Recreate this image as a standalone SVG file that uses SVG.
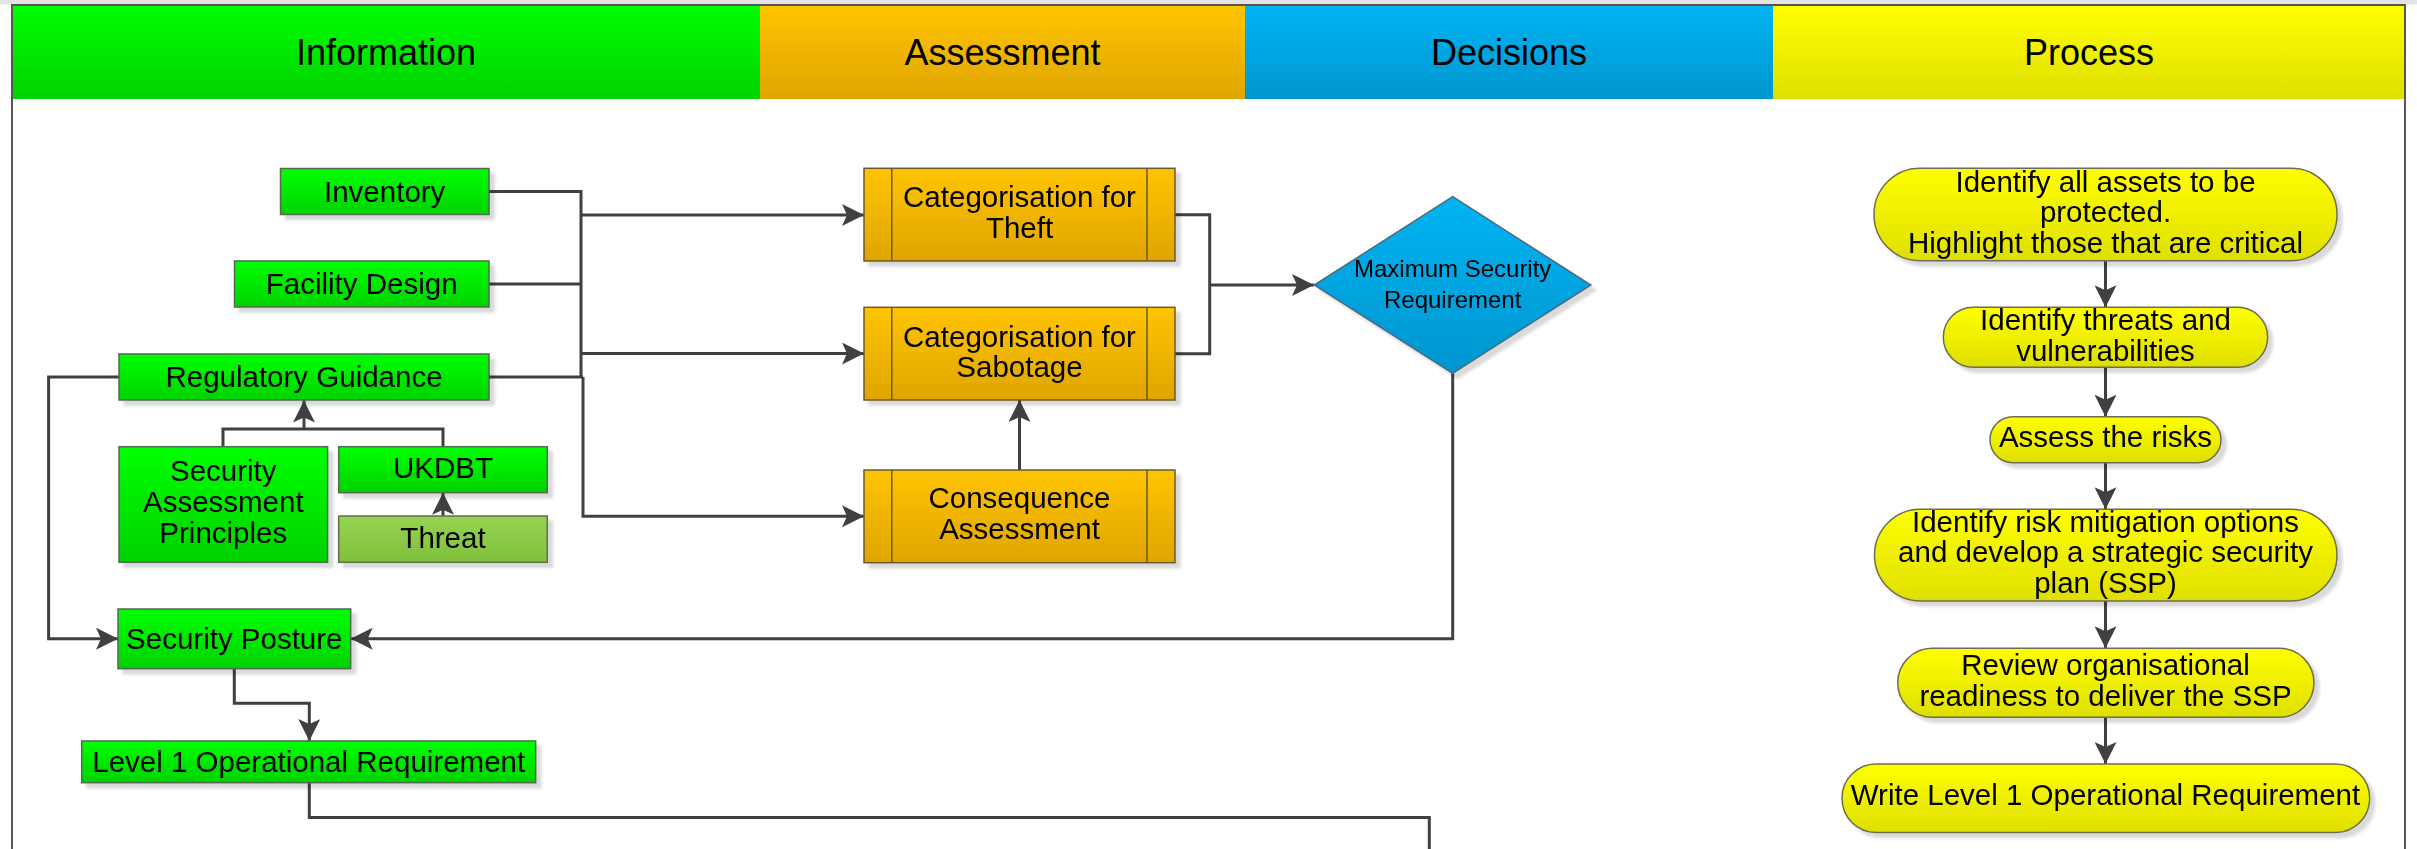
<svg xmlns="http://www.w3.org/2000/svg" width="2417" height="849" viewBox="0 0 2417 849">
<defs>
<linearGradient id="gGreen" x1="0" y1="0" x2="0" y2="1"><stop offset="0" stop-color="#00ff00"/><stop offset="1" stop-color="#00d200"/></linearGradient>
<linearGradient id="gThreat" x1="0" y1="0" x2="0" y2="1"><stop offset="0" stop-color="#96d452"/><stop offset="1" stop-color="#7fc03c"/></linearGradient>
<linearGradient id="gOrange" x1="0" y1="0" x2="0" y2="1"><stop offset="0" stop-color="#ffc400"/><stop offset="1" stop-color="#dfa500"/></linearGradient>
<linearGradient id="gBlue" x1="0" y1="0" x2="0" y2="1"><stop offset="0" stop-color="#00b4f2"/><stop offset="1" stop-color="#0096cf"/></linearGradient>
<linearGradient id="gYellow" x1="0" y1="0" x2="0" y2="1"><stop offset="0" stop-color="#ffff00"/><stop offset="1" stop-color="#dfdf00"/></linearGradient>
<filter id="sh" x="-10%" y="-10%" width="130%" height="140%">
<feGaussianBlur in="SourceAlpha" stdDeviation="1.5"/>
<feOffset dx="5" dy="5" result="o"/>
<feComponentTransfer><feFuncA type="linear" slope="0.15"/></feComponentTransfer>
<feMerge><feMergeNode/><feMergeNode in="SourceGraphic"/></feMerge>
</filter>
<marker id="arr" viewBox="0 0 22 22" refX="22" refY="11" markerWidth="22" markerHeight="22" markerUnits="userSpaceOnUse" orient="auto">
<path d="M0,0 L22,11 L0,22 L5,11 Z" fill="#404040"/>
</marker>
</defs>
<style>
text{font-family:"Liberation Sans",Arial,sans-serif;fill:#000;text-anchor:middle}
.hd{font-size:36px}
.t{font-size:29.5px}
.dt{font-size:24px}
.gn{fill:url(#gGreen);stroke:#4f6b4f;stroke-width:1.5}
.th{fill:url(#gThreat);stroke:#5f6f4f;stroke-width:1.5}
.or{fill:url(#gOrange);stroke:#6b5a2a;stroke-width:1.5}
.il{stroke:#6b5a2a;stroke-width:1.5;fill:none}
.dm{fill:url(#gBlue);stroke:#4a6a80;stroke-width:1.5}
.pr{fill:url(#gYellow);stroke:#6d6d50;stroke-width:1.5}
.c{fill:none;stroke:#404040;stroke-width:3;stroke-linejoin:miter}
.ca{fill:none;stroke:#404040;stroke-width:3;stroke-linejoin:miter;marker-end:url(#arr)}
</style>
<rect x="0" y="0" width="2417" height="849" fill="#ffffff"/>
<rect x="0" y="0" width="2417" height="4.5" fill="#e4e4e4"/>
<g id="pool">
<rect x="12" y="5" width="2393" height="860" fill="none" stroke="#555555" stroke-width="2"/>
</g>
<g id="header">
<rect x="13" y="6" width="747" height="93" fill="url(#gGreen)"/>
<rect x="760" y="6" width="485" height="93" fill="url(#gOrange)"/>
<rect x="1245" y="6" width="528" height="93" fill="url(#gBlue)"/>
<rect x="1773" y="6" width="631" height="93" fill="url(#gYellow)"/>
<text class="hd" x="386" y="65">Information</text>
<text class="hd" x="1002.5" y="65">Assessment</text>
<text class="hd" x="1509" y="65">Decisions</text>
<text class="hd" x="2089" y="65">Process</text>
</g>
<g id="connectors">
<path class="c" d="M489,191.5 H581 V377"/>
<path class="c" d="M489,284 H581"/>
<path class="c" d="M489,377 H583"/>
<path class="ca" d="M581,215 H864"/>
<path class="ca" d="M581,353.5 H864"/>
<path class="ca" d="M583,377 V516.3 H864"/>
<path class="c" d="M223,446.7 V429 H443 V446.7"/>
<path class="ca" d="M304,429 V400.5"/>
<path class="ca" d="M443,516 V492.7"/>
<path class="ca" d="M119,377 H48.6 V638.7 H118"/>
<path class="c" d="M1175,214.7 H1209.7 V353.7 H1175"/>
<path class="ca" d="M1209.7,285 H1314"/>
<path class="ca" d="M1019.5,470 V400"/>
<path class="ca" d="M1452.7,373.3 V638.7 H350.7"/>
<path class="ca" d="M234.3,668.7 V703.3 H309.3 V741"/>
<path class="c" d="M309.3,782.7 V817.5 H1429.3 V852"/>
<path class="ca" d="M2105.5,260.7 V307.3"/>
<path class="ca" d="M2105.5,367.3 V416.7"/>
<path class="ca" d="M2105.5,462.7 V509.3"/>
<path class="ca" d="M2105.5,601 V648.3"/>
<path class="ca" d="M2105.5,717.3 V764"/>
</g>
<g id="inventory" filter="url(#sh)">
<rect class="gn" x="280.5" y="168.5" width="208.5" height="46"/>
<text class="t" x="384.7" y="201.5">Inventory</text>
</g>
<g id="facility-design" filter="url(#sh)">
<rect class="gn" x="234.5" y="261" width="254.5" height="46"/>
<text class="t" x="361.7" y="294">Facility Design</text>
</g>
<g id="regulatory-guidance" filter="url(#sh)">
<rect class="gn" x="119" y="354" width="370" height="46"/>
<text class="t" x="304" y="387">Regulatory Guidance</text>
</g>
<g id="security-assessment-principles" filter="url(#sh)">
<rect class="gn" x="119" y="446.7" width="208.6" height="115.6"/>
<text class="t" x="223.3" y="481">Security</text>
<text class="t" x="223.3" y="512">Assessment</text>
<text class="t" x="223.3" y="543">Principles</text>
</g>
<g id="ukdbt" filter="url(#sh)">
<rect class="gn" x="338.7" y="446.7" width="208.6" height="46"/>
<text class="t" x="443" y="478">UKDBT</text>
</g>
<g id="threat" filter="url(#sh)">
<rect class="th" x="338.7" y="516" width="208.6" height="46.3"/>
<text class="t" x="443" y="548">Threat</text>
</g>
<g id="security-posture" filter="url(#sh)">
<rect class="gn" x="118" y="609" width="232.7" height="59.7"/>
<text class="t" x="234.3" y="649">Security Posture</text>
</g>
<g id="level1-or" filter="url(#sh)">
<rect class="gn" x="81.7" y="741" width="454" height="41.7"/>
<text class="t" x="308.7" y="772">Level 1 Operational Requirement</text>
</g>
<g id="cat-theft" filter="url(#sh)">
<rect class="or" x="864" y="168.3" width="311" height="92.7"/>
<path class="il" d="M891.8,168.3 V261 M1147,168.3 V261"/>
<text class="t" x="1019.5" y="206.7">Categorisation for</text>
<text class="t" x="1019.5" y="238.3">Theft</text>
</g>
<g id="cat-sabotage" filter="url(#sh)">
<rect class="or" x="864" y="307.3" width="311" height="92.7"/>
<path class="il" d="M891.8,307.3 V400 M1147,307.3 V400"/>
<text class="t" x="1019.5" y="346.7">Categorisation for</text>
<text class="t" x="1019.5" y="377.3">Sabotage</text>
</g>
<g id="consequence-assessment" filter="url(#sh)">
<rect class="or" x="864" y="470" width="311" height="92.7"/>
<path class="il" d="M891.8,470 V562.7 M1147,470 V562.7"/>
<text class="t" x="1019.5" y="508.3">Consequence</text>
<text class="t" x="1019.5" y="539">Assessment</text>
</g>
<g id="max-security-requirement" filter="url(#sh)">
<polygon class="dm" points="1452.7,196.7 1590.8,285 1452.7,373.3 1314.3,285"/>
<text class="dt" x="1452.7" y="276.7">Maximum Security</text>
<text class="dt" x="1452.7" y="308.3">Requirement</text>
</g>
<g id="p-identify-assets" filter="url(#sh)">
<rect class="pr" x="1874" y="168.3" width="463" height="92.4" rx="46" ry="46"/>
<text class="t" x="2105.5" y="192.3">Identify all assets to be</text>
<text class="t" x="2105.5" y="222.3">protected.</text>
<text class="t" x="2105.5" y="253.3">Highlight those that are critical</text>
</g>
<g id="p-identify-threats" filter="url(#sh)">
<rect class="pr" x="1943.3" y="307.3" width="324.4" height="60" rx="30" ry="30"/>
<text class="t" x="2105.5" y="330">Identify threats and</text>
<text class="t" x="2105.5" y="360.7">vulnerabilities</text>
</g>
<g id="p-assess-risks" filter="url(#sh)">
<rect class="pr" x="1990" y="416.7" width="231" height="46" rx="23" ry="23"/>
<text class="t" x="2105.5" y="447">Assess the risks</text>
</g>
<g id="p-mitigation" filter="url(#sh)">
<rect class="pr" x="1874.5" y="509.3" width="462.5" height="91.7" rx="46" ry="46"/>
<text class="t" x="2105.5" y="532.3">Identify risk mitigation options</text>
<text class="t" x="2105.5" y="562.3">and develop a strategic security</text>
<text class="t" x="2105.5" y="592.7">plan (SSP)</text>
</g>
<g id="p-review" filter="url(#sh)">
<rect class="pr" x="1897.7" y="648.3" width="416.3" height="69" rx="34.5" ry="34.5"/>
<text class="t" x="2105.5" y="675">Review organisational</text>
<text class="t" x="2105.5" y="705.7">readiness to deliver the SSP</text>
</g>
<g id="p-write-l1or" filter="url(#sh)">
<rect class="pr" x="1842" y="764" width="527.7" height="68.5" rx="34" ry="34"/>
<text class="t" x="2105.5" y="805">Write Level 1 Operational Requirement</text>
</g>
</svg>
